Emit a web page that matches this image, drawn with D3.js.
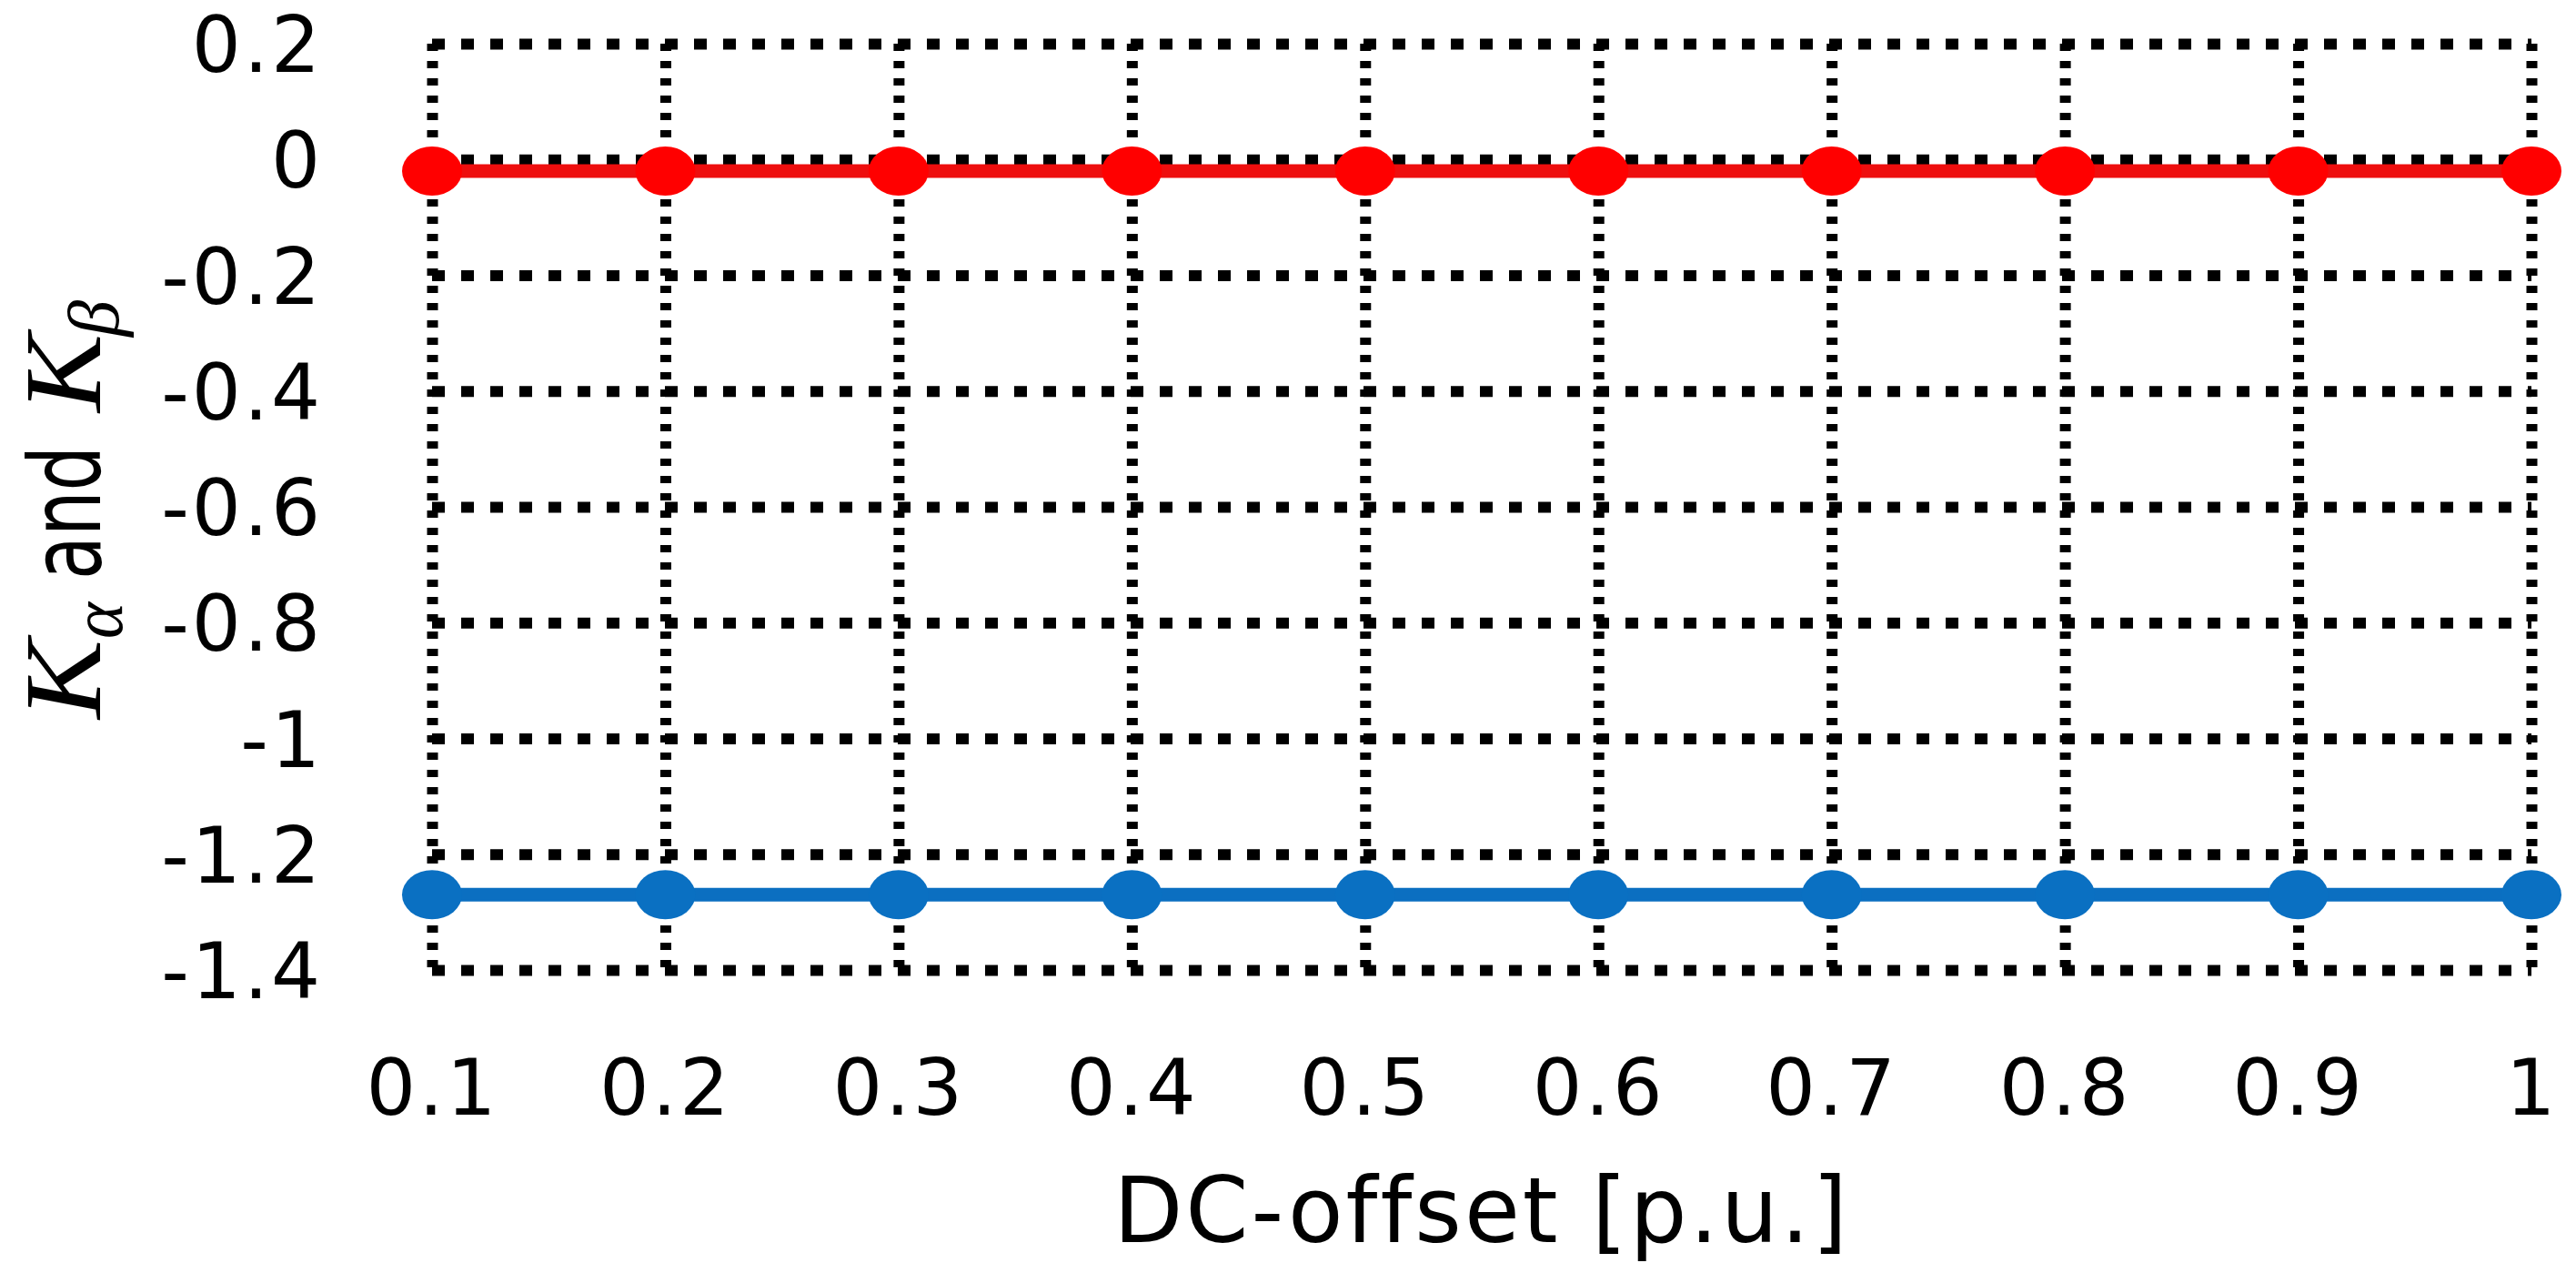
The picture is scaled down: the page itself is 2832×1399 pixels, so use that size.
<!DOCTYPE html>
<html>
<head>
<meta charset="utf-8">
<script src="https://cdn.jsdelivr.net/npm/d3@7/dist/d3.min.js"></script>
<style>
  html, body { margin: 0; padding: 0; background: #ffffff; }
  svg { display: block; }
</style>
</head>
<body>
<svg id="chart" width="2832" height="1399"></svg>
<script>
// ---- data ----
const dcOffset = [0.1, 0.2, 0.3, 0.4, 0.5, 0.6, 0.7, 0.8, 0.9, 1.0];
const kAlpha   = [-0.02, -0.02, -0.02, -0.02, -0.02, -0.02, -0.02, -0.02, -0.02, -0.02];
const kBeta    = [-1.27, -1.27, -1.27, -1.27, -1.27, -1.27, -1.27, -1.27, -1.27, -1.27];
const xTicks      = [0.1, 0.2, 0.3, 0.4, 0.5, 0.6, 0.7, 0.8, 0.9, 1.0];
const xTickLabels = ["0.1", "0.2", "0.3", "0.4", "0.5", "0.6", "0.7", "0.8", "0.9", "1"];
const yTicks      = [0.2, 0, -0.2, -0.4, -0.6, -0.8, -1.0, -1.2, -1.4];
const yTickLabels = ["0.2", "0", "-0.2", "-0.4", "-0.6", "-0.8", "-1", "-1.2", "-1.4"];
const xTitle = "DC-offset [p.u.]";

// ---- layout ----
const L = 475, R = 2783, T = 48, B = 1066;
const W = R - L, H = B - T;
const svg = d3.select("#chart");
svg.append("rect").attr("width", 2832).attr("height", 1399).attr("fill", "#fff");

const x = d3.scaleLinear().domain([0.1, 1.0]).range([L, R]);
const y = d3.scaleLinear().domain([-1.4, 0.2]).range([B, T]);

const FONT = "'DejaVu Sans', Verdana, sans-serif";

// ---- grid (dotted) ----
const gy = svg.append("g").attr("transform", `translate(${L},0)`)
  .call(d3.axisLeft(y).tickValues(yTicks).tickSize(-W).tickFormat(""));
gy.select(".domain").remove();
gy.selectAll(".tick line")
  .attr("stroke", "#000").attr("stroke-width", 12)
  .attr("stroke-dasharray", "14,18");

const gx = svg.append("g").attr("transform", `translate(0,${T})`)
  .call(d3.axisBottom(x).tickValues(xTicks).tickSize(H).tickFormat(""));
gx.select(".domain").remove();
gx.selectAll(".tick line")
  .attr("stroke", "#000").attr("stroke-width", 12)
  .attr("stroke-dasharray", "8,11");

// ---- tick labels ----
const ay = svg.append("g").attr("transform", `translate(${L},0)`)
  .call(d3.axisLeft(y).tickValues(yTicks).tickSize(0).tickPadding(120)
        .tickFormat((d, i) => yTickLabels[i]));
ay.select(".domain").remove();
ay.selectAll("text")
  .attr("dy", "0.36em")
  .style("font-family", FONT).style("font-size", "85px")
  .style("letter-spacing", "3px")
  .attr("fill", "#000");

const ax = svg.append("g").attr("transform", `translate(0,${B})`)
  .call(d3.axisBottom(x).tickValues(xTicks).tickSize(0)
        .tickFormat((d, i) => xTickLabels[i]));
ax.select(".domain").remove();
ax.selectAll("text")
  .attr("y", 1225 - B).attr("dy", 0)
  .style("font-family", FONT).style("font-size", "86px")
  .style("letter-spacing", "3px")
  .attr("fill", "#000");

// ---- series ----
const series = [
  { values: kBeta,  line: "#0b6fc1", dot: "#0a70c2" },
  { values: kAlpha, line: "#ee0e0e", dot: "#ff0000" }
];
const lineGen = d3.line().x((d, i) => x(dcOffset[i])).y(d => y(d));
series.forEach(s => {
  svg.append("path").datum(s.values)
    .attr("d", lineGen)
    .attr("fill", "none")
    .attr("stroke", s.line)
    .attr("stroke-width", 15);
  svg.append("g").selectAll("ellipse").data(s.values).join("ellipse")
    .attr("cx", (d, i) => x(dcOffset[i]))
    .attr("cy", d => y(d))
    .attr("rx", 33).attr("ry", 27)
    .attr("fill", s.dot);
});

// ---- x axis title ----
svg.append("text")
  .attr("x", (L + R) / 2).attr("y", 1365)
  .attr("text-anchor", "middle")
  .style("font-family", FONT).style("font-size", "99px")
  .style("letter-spacing", "3px")
  .attr("fill", "#000")
  .text(xTitle);

// ---- y axis title: K_alpha and K_beta ----
const SERIF = "'Liberation Serif', 'DejaVu Serif', serif";
const yt = svg.append("g").attr("transform", "translate(110,790) rotate(-90)");
yt.append("text").attr("x", 0).attr("y", 0)
  .attr("textLength", 87).attr("lengthAdjust", "spacingAndGlyphs")
  .style("font-family", SERIF).style("font-style", "italic").style("font-size", "120px")
  .attr("fill", "#000").text("K");
yt.append("text").attr("x", 88).attr("y", 24)
  .attr("textLength", 40).attr("lengthAdjust", "spacingAndGlyphs")
  .style("font-family", SERIF).style("font-style", "italic").style("font-size", "80px")
  .attr("fill", "#000").text("α");
yt.append("text").attr("x", 153).attr("y", 0)
  .attr("textLength", 147).attr("lengthAdjust", "spacingAndGlyphs")
  .style("font-family", FONT).style("font-size", "108px")
  .attr("fill", "#000").text("and");
yt.append("text").attr("x", 337).attr("y", 0)
  .attr("textLength", 86).attr("lengthAdjust", "spacingAndGlyphs")
  .style("font-family", SERIF).style("font-style", "italic").style("font-size", "120px")
  .attr("fill", "#000").text("K");
yt.append("text").attr("x", 420).attr("y", 20)
  .attr("textLength", 40).attr("lengthAdjust", "spacingAndGlyphs")
  .style("font-family", SERIF).style("font-style", "italic").style("font-size", "80px")
  .attr("fill", "#000").text("β");
</script>
</body>
</html>
